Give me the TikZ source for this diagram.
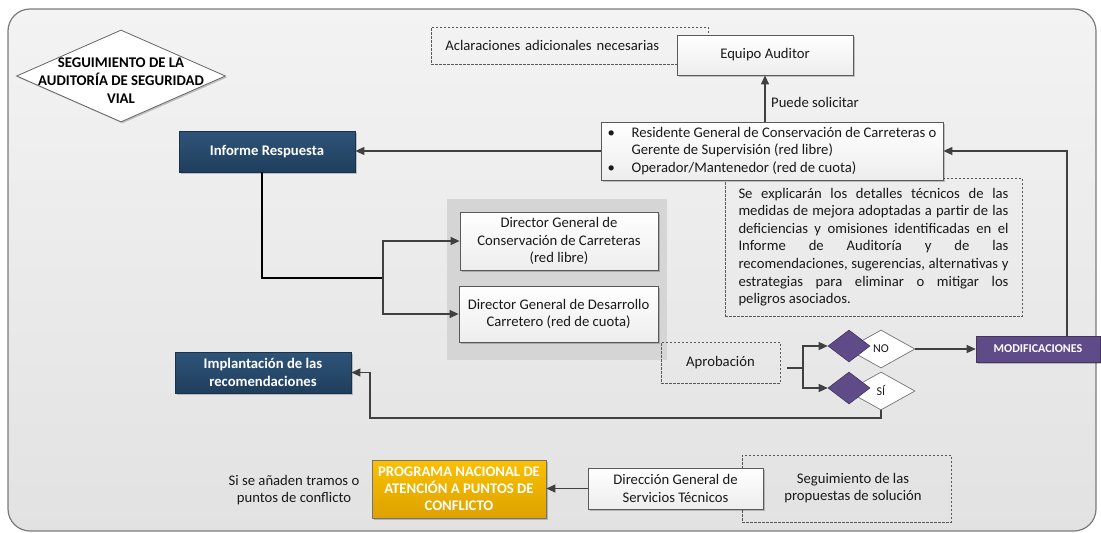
\documentclass[tikz,border=0pt]{standalone}
\usepackage{fontspec}
\setmainfont{Carlito}
\usetikzlibrary{arrows.meta,shapes.geometric,shadows}
\definecolor{bgtop}{HTML}{F3F3F3}
\definecolor{bgbot}{HTML}{E2E2E2}
\definecolor{bord}{HTML}{7A7A7A}
\definecolor{boxline}{HTML}{5A5A5A}
\definecolor{bluetop}{HTML}{2E5479}
\definecolor{bluebot}{HTML}{203E5D}
\definecolor{purp}{HTML}{5F4B87}
\definecolor{goldtop}{HTML}{FBC000}
\definecolor{goldbot}{HTML}{DDA200}
\definecolor{grpc}{HTML}{D5D5D5}
\definecolor{arrc}{HTML}{404040}
\newcommand\fsN{\fontsize{14.67}{17.6}\selectfont}
\newcommand\fsS{\fontsize{12}{14}\selectfont}
\begin{document}
\begin{tikzpicture}[x=1pt,y=-1pt,
 shadowed/.style={drop shadow={shadow xshift=1.5pt,shadow yshift=-1.5pt,opacity=0.2,fill=black}},
 wbox/.style={draw=boxline,line width=0.8pt,top color=white,bottom color=white!93!black,inner sep=0pt,align=center,font=\fsN,text=black!90,shadowed},
 bbox/.style={draw=bluebot!80!black,line width=0.8pt,top color=bluetop,bottom color=bluebot,inner sep=0pt,align=center,font=\fsN\bfseries,text=white,shadowed},
 dbox/.style={draw=black!65,line width=0.7pt,dash pattern=on 2.5pt off 1.5pt,inner sep=0pt,font=\fsN,text=black!90},
 arr/.style={draw=arrc,line width=1.2pt,-{Triangle[length=9pt,width=8pt]}},
 ln/.style={draw=arrc,line width=1.2pt},
 lbl/.style={font=\fsN,text=black!90,inner sep=0pt,align=center},
 pdia/.style={diamond,fill=purp,draw=purp!70!black,line width=0.6pt,minimum width=42pt,minimum height=32pt,inner sep=0pt},
 wdia/.style={diamond,draw=black!55,line width=0.7pt,fill=white,minimum width=68pt,minimum height=38pt,inner sep=0pt,font=\fsS,text=black!90},
]
\useasboundingbox (0,0) rectangle (1101,533);
% background
\node[draw=bord,line width=1.2pt,rounded corners=22pt,top color=bgtop,bottom color=bgbot,
  minimum width=1088pt,minimum height=522pt,inner sep=0pt] (bg) at (552,270) {};
% title
\node[diamond,draw=black!60,line width=0.8pt,fill=white,minimum width=209pt,minimum height=92pt,inner sep=0pt,shadowed] (title) at (121,76) {};
\node[font=\fontsize{14.8}{18}\selectfont\bfseries,text=black,align=center,inner sep=0pt] (titletext) at (121,81)
  {SEGUIMIENTO DE LA\\AUDITORÍA DE SEGURIDAD\\VIAL};
% top area
\node[dbox,anchor=west,text width=249pt,inner xsep=14pt,minimum height=37pt,align=left] (aclar) at (431,45.5)
  {Aclaraciones adicionales necesarias};
\node[wbox,minimum width=176pt,minimum height=40pt] (equipo) at (765,55) {Equipo Auditor};
\node[dbox,minimum width=297pt,minimum height=138pt,align=left] (para) at (873.5,247)
  {\makebox[270pt][s]{Se explicarán los detalles técnicos de las}\\
   \makebox[270pt][s]{medidas de mejora adoptadas a partir de las}\\
   \makebox[270pt][s]{deficiencias y omisiones identificadas en el}\\
   \makebox[270pt][s]{Informe de Auditoría y de las}\\
   \makebox[270pt][s]{recomendaciones, sugerencias, alternativas y}\\
   \makebox[270pt][s]{estrategias para eliminar o mitigar los}\\
   peligros asociados.};
\node[wbox,minimum width=342pt,minimum height=58pt,align=left] (resid) at (772,151)
  {\makebox[24pt][l]{•}Residente General de Conservación de Carreteras o\\
   \hspace*{24pt}Gerente de Supervisión (red libre)\\
   \makebox[24pt][l]{•}Operador/Mantenedor (red de cuota)};
\node[lbl,anchor=west] (puede) at (771,102) {Puede solicitar};
\node[bbox,minimum width=176pt,minimum height=41pt] (informe) at (267,151.5) {Informe Respuesta};
% directors group
\node[fill=grpc,minimum width=220pt,minimum height=161pt,inner sep=0pt] (grp) at (557,279.5) {};
\node[wbox,minimum width=198pt,minimum height=58pt] (dir1) at (559,241)
  {Director General de\\Conservación de Carreteras\\(red libre)};
\node[wbox,minimum width=199pt,minimum height=56pt] (dir2) at (558.5,314)
  {Director General de Desarrollo\\Carretero (red de cuota)};
\node[dbox,minimum width=119pt,minimum height=41pt] (aprob) at (720.5,362.5) {Aprobación};
% decisions
\node[wdia] (noW) at (881,349) {NO};
\node[pdia] (noP) at (849,346) {};
\node[wdia] (siW) at (881,391) {SÍ};
\node[pdia] (siP) at (849,388) {};
\node[draw=purp!70!black,line width=0.6pt,fill=purp,text=white,font=\fsS\bfseries,minimum width=124pt,minimum height=26pt,inner sep=0pt,shadowed] (modif) at (1038,349) {MODIFICACIONES};
\node[bbox,minimum width=176pt,minimum height=41pt] (implant) at (263,372.5) {Implantación de las\\recomendaciones};
% bottom row
\node[dbox,minimum width=209pt,minimum height=67pt] (seg) at (846.5,488.5) {};
\node[lbl] (segtext) at (853,488) {Seguimiento de las\\propuestas de solución};
\node[wbox,minimum width=175pt,minimum height=41pt] (direc) at (675.5,488.5) {Dirección General de\\Servicios Técnicos};
\node[draw=black!55,line width=0.8pt,top color=goldtop,bottom color=goldbot,text=white,font=\fontsize{14.67}{17}\selectfont\bfseries,
  minimum width=174pt,minimum height=58pt,align=center,inner sep=0pt,shadowed] (prog) at (459,489)
  {PROGRAMA NACIONAL DE\\ATENCIÓN A PUNTOS DE\\CONFLICTO};
\node[lbl,font=\fontsize{14.67}{16.5}\selectfont] (sitext) at (294,490) {Si se añaden tramos o\\puntos de conflicto};
% connectors
\coordinate (split) at (383,278);
\draw[draw=black,line width=1.2pt] ([xshift=-5pt]informe.south) |- (split);
\draw[arr] (split) |- (dir1.west);
\draw[arr] (split) |- (dir2.west);
\draw[arr] (resid.west) -- (resid.west -| informe.east);
\draw[arr] (equipo.south |- resid.north) -- (equipo.south);
\coordinate (apout) at (787,368);
\coordinate (apsplit) at (803,368);
\draw[ln] (apout) -- (apsplit);
\draw[arr] (apsplit) |- (noP.west);
\draw[arr] (apsplit) |- (siP.west);
\draw[arr] (noW.east) -- (noW.east -| modif.west);
\draw[arr] ([xshift=29pt]modif.north) |- (resid.east);
\coordinate (back) at (370,418);
\draw[arr] (siW.south) |- (back) |- (implant.east);
\draw[arr] (direc.west) -- (direc.west -| prog.east);
\end{tikzpicture}
\end{document}
